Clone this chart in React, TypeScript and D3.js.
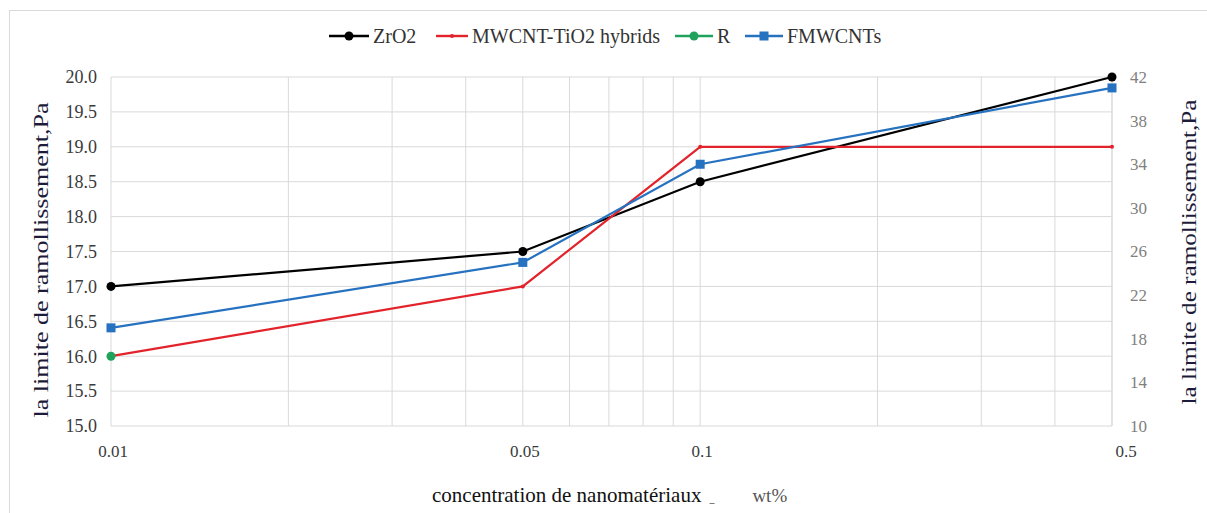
import React from 'react';
import * as d3 from 'd3';

// concentrations (wt%) on the log x axis
const concentrations = [0.01, 0.05, 0.1, 0.5];
const xTickLabels = ['0.01', '0.05', '0.1', '0.5'];

// left axis series
const zro2 = [17.0, 17.5, 18.5, 20.0];
const mwcntTio2 = [16.0, 17.0, 19.0, 19.0];
const rValues = [16.0];

// right axis series
const fmwcnts = [19, 25, 34, 41];

const leftTicks = [15, 15.5, 16, 16.5, 17, 17.5, 18, 18.5, 19, 19.5, 20];
const rightTicks = [10, 14, 18, 22, 26, 30, 34, 38, 42];

const legendItems = [
  { name: 'ZrO2', color: '#000000', marker: 'circle', x: 329, w: 40 },
  { name: 'MWCNT-TiO2 hybrids', color: '#e3232b', marker: 'dot', x: 436, w: 32 },
  { name: 'R', color: '#1fa35c', marker: 'circle', x: 675, w: 38 },
  { name: 'FMWCNTs', color: '#2672c0', marker: 'square', x: 745, w: 38 },
];

const W = 1207;
const H = 513;
const margin = { left: 111, right: W - 1112, top: 77, bottom: H - 426 };
const serif = { fontFamily: "'Liberation Serif', 'Times New Roman', serif" };

const Marker = ({ type, x, y, color }: { type: string; x: number; y: number; color: string }) => {
  if (type === 'circle') return <circle cx={x} cy={y} r={4.5} fill={color} />;
  if (type === 'square') return <rect x={x - 4.5} y={y - 4.5} width={9} height={9} fill={color} />;
  return <circle cx={x} cy={y} r={2} fill={color} />;
};

export default function App() {
  const x = d3
    .scaleLog()
    .domain([0.01, 0.5])
    .range([margin.left, W - margin.right]);
  const yL = d3
    .scaleLinear()
    .domain([15, 20])
    .range([H - margin.bottom, margin.top]);
  const yR = d3
    .scaleLinear()
    .domain([10, 42])
    .range([H - margin.bottom, margin.top]);

  // minor gridlines at every integer multiple inside each decade
  const vGrid: number[] = [];
  [0.01, 0.1].forEach((dec) => {
    for (let k = 1; k <= 9; k++) {
      const v = +(dec * k).toFixed(3);
      if (v <= 0.5) vGrid.push(v);
    }
  });

  const lineL = d3
    .line<number>()
    .x((_, i) => x(concentrations[i]))
    .y((d) => yL(d));
  const lineR = d3
    .line<number>()
    .x((_, i) => x(concentrations[i]))
    .y((d) => yR(d));

  const top = margin.top;
  const bottom = H - margin.bottom;
  const left = margin.left;
  const right = W - margin.right;

  return (
    <svg
      width={W}
      height={H}
      style={{ position: 'absolute', left: 0, top: 0, background: '#fff', ...serif }}
    >
      <rect x={9.5} y={10.5} width={1210} height={520} fill="#fff" stroke="#d9d9d9" />

      {/* gridlines */}
      {vGrid.map((v) => (
        <line key={'v' + v} x1={x(v)} x2={x(v)} y1={top} y2={bottom} stroke="#d9d9d9" />
      ))}
      {leftTicks.map((t) => (
        <line key={'h' + t} x1={left} x2={right} y1={yL(t)} y2={yL(t)} stroke="#d9d9d9" />
      ))}
      <line x1={right} x2={right} y1={top} y2={bottom} stroke="#d9d9d9" />

      {/* left ticks */}
      {leftTicks.map((t) => (
        <text key={'lt' + t} x={97} y={yL(t)} dy="0.35em" textAnchor="end" fontSize={18} fill="#3a3a3a" style={serif}>
          {d3.format('.1f')(t)}
        </text>
      ))}
      {/* right ticks */}
      {rightTicks.map((t) => (
        <text key={'rt' + t} x={1130} y={yR(t)} dy="0.35em" textAnchor="start" fontSize={17} fill="#808080" style={serif}>
          {t}
        </text>
      ))}
      {/* x ticks */}
      {concentrations.map((c, i) => (
        <text
          key={'xt' + c}
          x={x(c) + (i === concentrations.length - 1 ? 14 : 2)}
          y={451}
          dy="0.35em"
          textAnchor="middle"
          fontSize={17}
          fill="#3a3a3a"
          style={serif}
        >
          {xTickLabels[i]}
        </text>
      ))}

      {/* series */}
      <path d={lineL(zro2) || ''} fill="none" stroke="#000" strokeWidth={2.2} />
      {zro2.map((v, i) => (
        <Marker key={'z' + i} type="circle" x={x(concentrations[i])} y={yL(v)} color="#000" />
      ))}
      <path d={lineL(mwcntTio2) || ''} fill="none" stroke="#e3232b" strokeWidth={2.2} />
      {mwcntTio2.map((v, i) => (
        <Marker key={'m' + i} type="dot" x={x(concentrations[i])} y={yL(v)} color="#e3232b" />
      ))}
      {rValues.map((v, i) => (
        <Marker key={'r' + i} type="circle" x={x(concentrations[i])} y={yL(v)} color="#1fa35c" />
      ))}
      <path d={lineR(fmwcnts) || ''} fill="none" stroke="#2672c0" strokeWidth={2.2} />
      {fmwcnts.map((v, i) => (
        <Marker key={'f' + i} type="square" x={x(concentrations[i])} y={yR(v)} color="#2672c0" />
      ))}

      {/* legend */}
      {legendItems.map((it) => (
        <g key={it.name}>
          <line x1={it.x} x2={it.x + it.w} y1={36} y2={36} stroke={it.color} strokeWidth={2.4} />
          <Marker type={it.marker} x={it.x + it.w / 2} y={36} color={it.color} />
          <text x={it.x + it.w + 4} y={36} dy="0.35em" fontSize={20} fill="#333" style={serif}>
            {it.name}
          </text>
        </g>
      ))}

      {/* axis titles */}
      <text
        transform="translate(40,260) rotate(-90)"
        textAnchor="middle"
        dy="0.35em"
        fontSize={22}
        textLength={315}
        lengthAdjust="spacingAndGlyphs"
        fill="#1c1c3a"
        style={serif}
      >
        la limite de ramollissement,Pa
      </text>
      <text
        transform="translate(1188,252) rotate(-90)"
        textAnchor="middle"
        dy="0.35em"
        fontSize={22}
        textLength={305}
        lengthAdjust="spacingAndGlyphs"
        fill="#1c1c3a"
        style={serif}
      >
        la limite de ramollissement,Pa
      </text>
      <text x={432} y={495} dy="0.35em" fontSize={21} fill="#111" style={serif}>
        concentration de nanomatériaux
        <tspan dx={8} fontSize={10}>
          _
        </tspan>
        <tspan dx={38} fontSize={19} fill="#555">
          wt%
        </tspan>
      </text>
    </svg>
  );
}
